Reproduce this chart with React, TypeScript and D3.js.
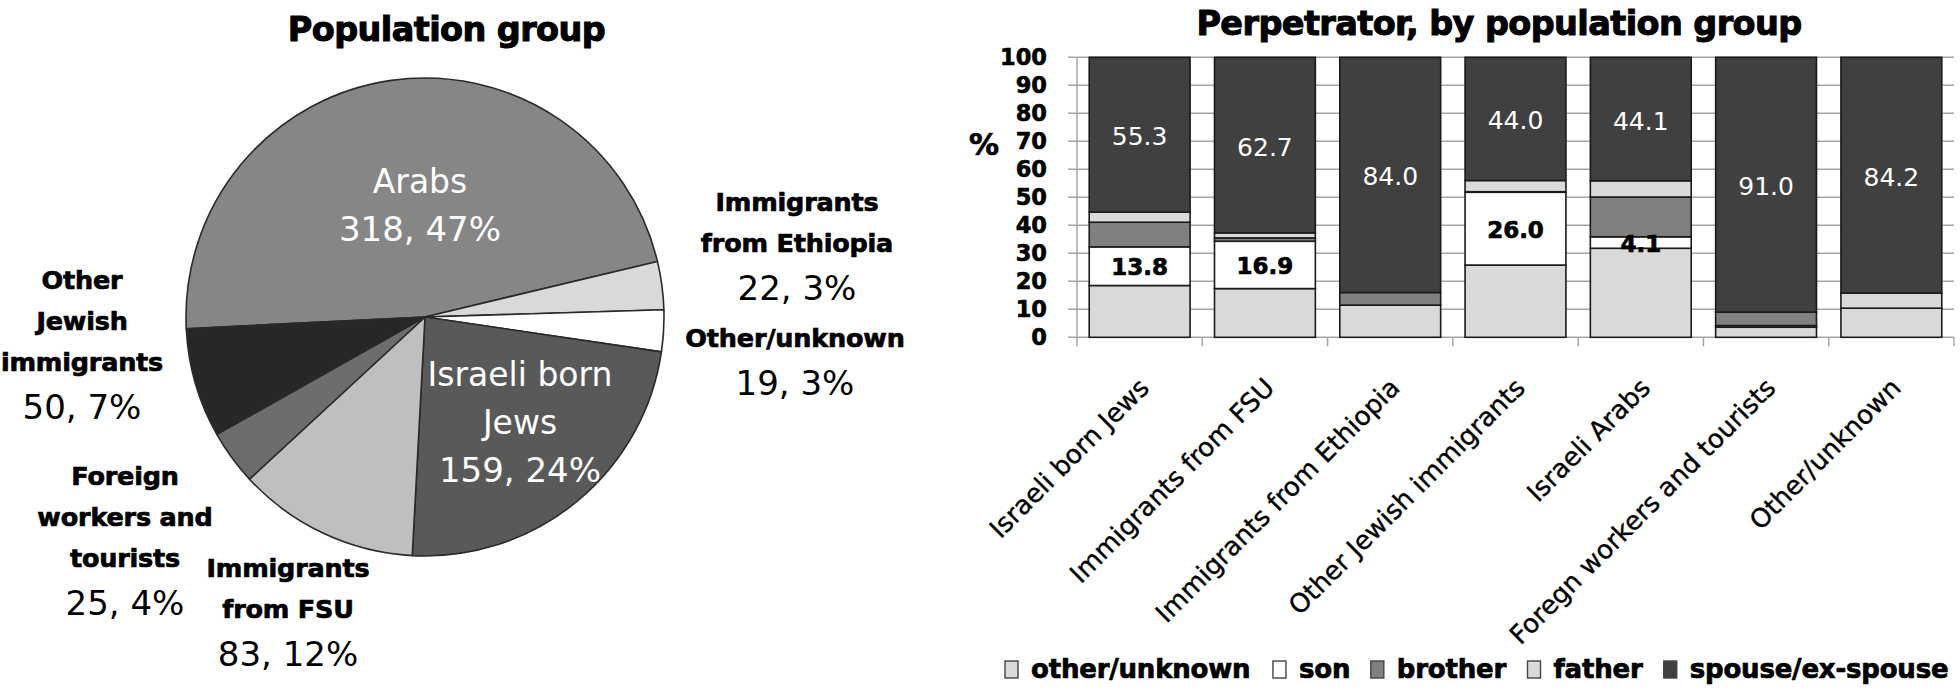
import React, { useMemo } from 'react';
import * as d3 from 'd3';

// ---------- PIE DATA ----------
const pieNames = [
  'Arabs',
  'Immigrants from Ethiopia',
  'Other/unknown',
  'Israeli born Jews',
  'Immigrants from FSU',
  'Foreign workers and tourists',
  'Other Jewish immigrants',
];
const pieValues = [318, 22, 19, 159, 83, 25, 50];
const pieLabelLines = [
  ['Arabs'],
  ['Immigrants', 'from Ethiopia'],
  ['Other/unknown'],
  ['Israeli born', 'Jews'],
  ['Immigrants', 'from FSU'],
  ['Foreign', 'workers and', 'tourists'],
  ['Other', 'Jewish', 'immigrants'],
];

// ---------- BAR DATA ----------
const categories = [
  'Israeli born Jews',
  'Immigrants from FSU',
  'Immigrants from Ethiopia',
  'Other Jewish immigrants',
  'Israeli Arabs',
  'Foregn workers and tourists',
  'Other/unknown',
];
const seriesNames = ['other/unknown', 'son', 'brother', 'father', 'spouse/ex-spouse'];
const otherUnknownVals = [18.5, 17.4, 11.5, 25.8, 31.8, 3.6, 10.4];
const sonVals = [13.8, 16.9, 0.0, 26.0, 4.1, 0.6, 0.0];
const brotherVals = [8.8, 1.2, 4.5, 0.2, 14.2, 4.8, 0.0];
const fatherVals = [3.6, 1.8, 0.0, 4.0, 5.8, 0.0, 5.4];
const spouseVals = [55.3, 62.7, 84.0, 44.0, 44.1, 91.0, 84.2];
const yTicks = [0, 10, 20, 30, 40, 50, 60, 70, 80, 90, 100];

// ---------- STYLE / LAYOUT ----------
const W = 1960;
const H = 689;
const pieColors = ['#868686', '#d9d9d9', '#ffffff', '#595959', '#bfbfbf', '#6d6d6d', '#272727'];
const barColors: Record<string, string> = {
  'other/unknown': '#d9d9d9',
  son: '#ffffff',
  brother: '#808080',
  father: '#dadada',
  'spouse/ex-spouse': '#404040',
};
const PIE_CX = 425;
const PIE_CY = 317;
const PIE_R = 239;
const PIE_START = (-92.8 * Math.PI) / 180;

// label layout (x centre, first baseline, inside?)
const pieLabelLayout = [
  { x: 420, y: 193, inside: true },
  { x: 797, y: 211, inside: false },
  { x: 795, y: 347, inside: false },
  { x: 520, y: 386, inside: true },
  { x: 288, y: 577, inside: false },
  { x: 125, y: 485, inside: false },
  { x: 82, y: 289, inside: false },
];

const PLOT_L = 1077;
const PLOT_R = 1954;
const PLOT_T = 57.3;
const PLOT_B = 337.3;

const FONT = "'DejaVu Sans', 'Liberation Sans', sans-serif";

function measure(text: string, font: string): number {
  try {
    const c = document.createElement('canvas');
    const ctx = c.getContext('2d');
    if (ctx) {
      ctx.font = font;
      return ctx.measureText(text).width;
    }
  } catch (e) {
    /* ignore */
  }
  return text.length * 15;
}

const heavy = { stroke: '#000', strokeWidth: 0.7, paintOrder: 'stroke' as const };

export default function App() {
  const total = d3.sum(pieValues);
  const pieGen = d3
    .pie<number>()
    .sort(null)
    .value((d) => d)
    .startAngle(PIE_START)
    .endAngle(PIE_START + 2 * Math.PI);
  const arcs = pieGen(pieValues);
  const arcGen = d3.arc<d3.PieArcDatum<number>>().innerRadius(0).outerRadius(PIE_R);

  const rows = categories.map((c, i) => ({
    cat: c,
    'other/unknown': otherUnknownVals[i],
    son: sonVals[i],
    brother: brotherVals[i],
    father: fatherVals[i],
    'spouse/ex-spouse': spouseVals[i],
  }));
  const stacked = d3.stack<any>().keys(seriesNames)(rows);

  const x = d3
    .scaleBand<string>()
    .domain(categories)
    .range([PLOT_L, PLOT_R])
    .paddingInner(0.195)
    .paddingOuter(0.0975);
  const y = d3.scaleLinear().domain([0, 100]).range([PLOT_B, PLOT_T]);
  const step = x.step();

  const legendFont = `bold 26px 'DejaVu Sans'`;
  const legendItems = useMemo(() => {
    const sw = 13;
    const gapText = 13;
    const gapItem = 20;
    let cx = 1005;
    return seriesNames.map((n) => {
      const tw = measure(n, legendFont);
      const item = { name: n, x: cx, tx: cx + sw + gapText };
      cx += sw + gapText + tw + gapItem;
      return item;
    });
  }, []);

  return (
    <svg
      width={W}
      height={H}
      viewBox={`0 0 ${W} ${H}`}
      style={{ position: 'absolute', left: 0, top: 0, background: '#fff' }}
    >
      <rect x={0} y={0} width={W} height={H} fill="#ffffff" />

      {/* ===== PIE ===== */}
      <text
        x={446.5}
        y={41}
        textAnchor="middle"
        fontFamily={FONT}
        fontWeight="bold"
        fontSize={33.5}
        letterSpacing={-0.6}
        fill="#000"
        {...heavy}
        strokeWidth={1}
      >
        Population group
      </text>
      <g transform={`translate(${PIE_CX},${PIE_CY})`}>
        {arcs.map((a, i) => (
          <path
            key={pieNames[i]}
            d={arcGen(a) || ''}
            fill={pieColors[i]}
            stroke="#2a2a2a"
            strokeWidth={1.6}
            strokeLinejoin="round"
          />
        ))}
      </g>
      {pieNames.map((n, i) => {
        const lay = pieLabelLayout[i];
        const lines = pieLabelLines[i];
        const pct = Math.round((pieValues[i] / total) * 100);
        const valText = `${pieValues[i]}, ${pct}%`;
        if (lay.inside) {
          const lh = 48;
          return (
            <g key={n} fill="#ffffff" fontFamily={FONT} fontSize={33} textAnchor="middle">
              {lines.map((l, k) => (
                <text key={k} x={lay.x} y={lay.y + k * lh}>
                  {l}
                </text>
              ))}
              <text x={lay.x} y={lay.y + lines.length * lh} fontSize={34}>
                {valText}
              </text>
            </g>
          );
        }
        const lh = 41;
        return (
          <g key={n} fill="#000" fontFamily={FONT} textAnchor="middle">
            {lines.map((l, k) => (
              <text
                key={k}
                x={lay.x}
                y={lay.y + k * lh}
                fontWeight="bold"
                fontSize={25.5}
                letterSpacing={-0.2}
                {...heavy}
              >
                {l}
              </text>
            ))}
            <text x={lay.x} y={lay.y + (lines.length - 1) * lh + 48} fontSize={34}>
              {valText}
            </text>
          </g>
        );
      })}

      {/* ===== BAR CHART ===== */}
      <text
        x={1499}
        y={35}
        textAnchor="middle"
        fontFamily={FONT}
        fontWeight="bold"
        fontSize={33.5}
        letterSpacing={-0.6}
        fill="#000"
        {...heavy}
        strokeWidth={1}
      >
        Perpetrator, by population group
      </text>

      {/* gridlines */}
      <g stroke="#a6a6a6" strokeWidth={1.5}>
        {yTicks.map((t) => (
          <line key={t} x1={PLOT_L - 9} x2={PLOT_R} y1={y(t)} y2={y(t)} />
        ))}
        <line x1={PLOT_L} x2={PLOT_L} y1={PLOT_T} y2={PLOT_B} />
        {d3.range(categories.length + 1).map((k) => (
          <line
            key={k}
            x1={PLOT_L + k * step}
            x2={PLOT_L + k * step}
            y1={PLOT_B}
            y2={PLOT_B + 9}
          />
        ))}
      </g>

      {/* y tick labels */}
      <g fontFamily={FONT} fontWeight="bold" fontSize={22.5} textAnchor="end" fill="#000">
        {yTicks.map((t) => (
          <text key={t} x={1047} y={y(t) + 8} {...heavy} strokeWidth={0.6}>
            {t}
          </text>
        ))}
      </g>
      <text
        x={984}
        y={155}
        textAnchor="middle"
        fontFamily={FONT}
        fontWeight="bold"
        fontSize={30}
        fill="#000"
        {...heavy}
      >
        %
      </text>

      {/* bars */}
      {stacked.map((s) => (
        <g key={s.key} fill={barColors[s.key]} stroke="#1a1a1a" strokeWidth={1.6}>
          {s.map((d, i) =>
            d[1] - d[0] > 0 ? (
              <rect
                key={i}
                x={x(categories[i])}
                width={x.bandwidth()}
                y={y(d[1])}
                height={y(d[0]) - y(d[1])}
              />
            ) : null
          )}
        </g>
      ))}

      {/* data labels */}
      {stacked.map((s) => {
        if (s.key === 'spouse/ex-spouse') {
          return (
            <g key={`l-${s.key}`} fill="#ffffff" fontFamily={FONT} fontSize={25} textAnchor="middle">
              {s.map((d, i) => (
                <text
                  key={i}
                  x={(x(categories[i]) || 0) + x.bandwidth() / 2}
                  y={y((d[0] + d[1]) / 2)}
                  dy="0.42em"
                >
                  {(d[1] - d[0]).toFixed(1)}
                </text>
              ))}
            </g>
          );
        }
        if (s.key === 'son') {
          return (
            <g
              key={`l-${s.key}`}
              fill="#000"
              fontFamily={FONT}
              fontWeight="bold"
              fontSize={23}
              textAnchor="middle"
            >
              {s.map((d, i) =>
                d[1] - d[0] >= 1 ? (
                  <text
                    key={i}
                    x={(x(categories[i]) || 0) + x.bandwidth() / 2}
                    y={y((d[0] + d[1]) / 2)}
                    dy="0.4em"
                    {...heavy}
                  >
                    {(d[1] - d[0]).toFixed(1)}
                  </text>
                ) : null
              )}
            </g>
          );
        }
        return null;
      })}

      {/* category labels */}
      <g fontFamily={FONT} fontSize={26} fill="#000" textAnchor="end">
        {categories.map((c) => {
          const cx = (x(c) || 0) + x.bandwidth() / 2;
          return (
            <text
              key={c}
              transform={`translate(${cx + 11},${PLOT_B + 52}) rotate(-45)`}
              stroke="#000"
              strokeWidth={0.4}
            >
              {c}
            </text>
          );
        })}
      </g>

      {/* legend */}
      <g>
        {legendItems.map((it) => (
          <g key={it.name}>
            <rect
              x={it.x}
              y={661}
              width={13}
              height={17}
              fill={barColors[it.name]}
              stroke="#444"
              strokeWidth={1.4}
            />
            <text
              x={it.tx}
              y={678}
              fontFamily={FONT}
              fontWeight="bold"
              fontSize={26}
              letterSpacing={-0.2}
              fill="#000"
              {...heavy}
            >
              {it.name}
            </text>
          </g>
        ))}
      </g>
    </svg>
  );
}
